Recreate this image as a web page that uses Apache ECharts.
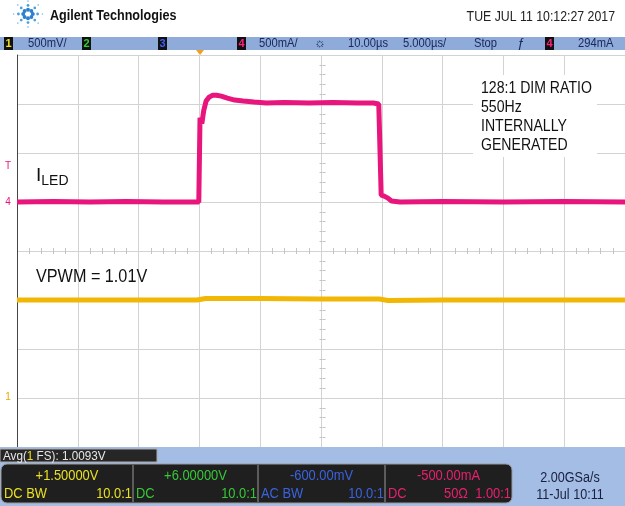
<!DOCTYPE html>
<html>
<head>
<meta charset="utf-8">
<style>
  html, body { margin: 0; padding: 0; background: #fff; }
  #chart { width: 625px; height: 506px; }
</style>
<script src="https://cdn.jsdelivr.net/npm/echarts/dist/echarts.min.js"></script>
</head>
<body>
<div id="chart"></div>
<script>
// scope settings (5us/div, delay 10us)
var timeMin = -15
var timeMax = 35
var timeStep = 5

// CH4 current probe, 500mA/div, offset -500mA
var iledTimeUs = [-15, -12, -9, -6, -3, -0.05,
  0.05, 0.2, 0.35, 0.55, 0.8, 1.1, 1.4, 1.8, 2.3, 2.9, 3.6, 4.5, 5.5, 7, 9,
  11, 13, 14.3, 14.75, 14.95, 15.2, 15.5, 15.8, 16.5, 20, 25, 30, 35]
var iledA = [0.00, 0.005, 0.00, 0.005, 0.00, 0.00,
  0.86, 0.80, 0.93, 1.03, 1.07, 1.09, 1.09, 1.08, 1.06, 1.04, 1.03, 1.02, 1.01, 1.015, 1.01,
  1.015, 1.01, 1.01, 1.00, 0.07, 0.06, 0.04, 0.01, 0.00, 0.005, 0.00, 0.005, 0.00]

// CH1 PWM dim input, 500mV/div, offset +1.5V
var vpwmTimeUs = [-15, -10, -5, -0.2, 0.5, 5, 10, 14.8, 15.5, 20, 25, 30, 35]
var vpwmV = [1.00, 1.00, 1.00, 1.00, 1.015, 1.015, 1.01, 1.01, 0.995, 1.00, 1.00, 1.00, 1.00]

var toolbarItems = ['500mV/', '500mA/', '10.00µs', '5.000µs/', 'Stop', '294mA']
var noteLines = ['128:1 DIM RATIO', '550Hz', 'INTERNALLY', 'GENERATED']

var sans = "'Liberation Sans', Arial, sans-serif"

function pairs(xs, ys) {
  return xs.map(function (x, i) { return [x, ys[i]] })
}

// condensed text, like the scope's narrow font
function txt(x, y, text, color, size, align, sx, weight) {
  return { type: 'text', x: x, y: y, z: 12, scaleX: sx || 0.86,
    style: { text: text, fill: color, font: (weight || '') + ' ' + size + 'px ' + sans, align: align || 'left', verticalAlign: 'middle' } }
}

function chanBox(x, color, label) {
  return [
    { type: 'rect', shape: { x: x, y: 37, width: 9, height: 13 }, style: { fill: '#111' }, z: 10 },
    { type: 'text', x: x + 4.5, y: 43.5, style: { text: label, fill: color, font: 'bold 11px ' + sans, align: 'center', verticalAlign: 'middle' }, z: 11 }
  ]
}

var graphics = []
// header logo (dot burst)
for (var a = 0; a < 8; a++) {
  for (var r = 1; r <= 3; r++) {
    var ang = a * Math.PI / 4
    graphics.push({ type: 'circle', shape: { cx: 28 + Math.cos(ang) * r * 4.8, cy: 14 + Math.sin(ang) * r * 4.3, r: 2.5 - r * 0.55 },
      style: { fill: r === 1 ? '#2a7fd0' : (r === 2 ? '#4aa0e0' : '#8cc4ee') }, z: 10 })
  }
}
graphics.push(txt(50, 16, 'Agilent Technologies', '#111', 15, 'left', 0.84, 'bold'))
graphics.push(txt(615, 17, 'TUE JUL 11 10:12:27 2017', '#222', 14, 'right', 0.88))

// toolbar
graphics.push({ type: 'rect', shape: { x: 0, y: 37, width: 625, height: 13 }, style: { fill: '#8fabd9' }, z: 9 })
graphics = graphics.concat(chanBox(4, '#f0e020', '1'), chanBox(82, '#30d030', '2'), chanBox(158, '#4060ff', '3'),
  chanBox(237, '#ff2080', '4'), chanBox(545, '#ff2080', '4'))
graphics.push(txt(28, 43.5, toolbarItems[0], '#1a2860', 13))
graphics.push(txt(259, 43.5, toolbarItems[1], '#1a2860', 13))
graphics.push(txt(320, 43.5, '☼', '#1a2860', 13, 'center', 1))
graphics.push(txt(348, 43.5, toolbarItems[2], '#1a2860', 13))
graphics.push(txt(403, 43.5, toolbarItems[3], '#1a2860', 13))
graphics.push(txt(474, 43.5, toolbarItems[4], '#1a2860', 13))
graphics.push(txt(521, 43.5, 'ƒ', '#1a2860', 13, 'center', 1))
graphics.push(txt(578, 43.5, toolbarItems[5], '#1a2860', 13))
// trigger position marker
graphics.push({ type: 'polygon', shape: { points: [[196, 50], [204, 50], [200, 55]] }, style: { fill: '#f0a020' }, z: 12 })

// left side channel markers
graphics.push(txt(8, 166, 'T', '#e8157c', 10, 'center', 1))
graphics.push(txt(8, 202, '4', '#e8157c', 10, 'center', 1))
graphics.push(txt(8, 397, '1', '#e8a800', 10, 'center', 1))

// trace labels
graphics.push({ type: 'text', x: 36, y: 176, z: 12,
  style: { text: '{a|I}{b|LED}', verticalAlign: 'middle', rich: {
    a: { font: '19px ' + sans, fill: '#111' },
    b: { font: '14px ' + sans, fill: '#111', padding: [10, 0, 0, 0] } } } })
graphics.push(txt(36, 277, 'VPWM = 1.01V', '#111', 18, 'left', 0.9))

// annotation box
graphics.push({ type: 'rect', shape: { x: 473, y: 75, width: 124, height: 82 }, style: { fill: '#fff' }, z: 11 })
noteLines.forEach(function (line, i) {
  graphics.push(txt(481, 89 + i * 19, line, '#111', 16, 'left', 0.88))
})

// status bar
graphics.push({ type: 'rect', shape: { x: 0, y: 447, width: 625, height: 59 }, style: { fill: '#a3bde4' }, z: 9 })
graphics.push({ type: 'rect', shape: { x: 0, y: 449, width: 157, height: 13 }, style: { fill: '#262626', stroke: '#aaa', lineWidth: 1 }, z: 10 })
graphics.push({ type: 'text', x: 3, y: 456, z: 12, scaleX: 0.9, style: { text: '{w|Avg(}{y|1}{w| FS): 1.0093V}', verticalAlign: 'middle',
  rich: { w: { font: '13px ' + sans, fill: '#e8e8e8' }, y: { font: '13px ' + sans, fill: '#f0e020' } } } })
graphics.push({ type: 'rect', shape: { x: 1, y: 464, width: 511, height: 39, r: 6 }, style: { fill: '#1f1f1f', stroke: '#9a9a9a', lineWidth: 1 }, z: 10 })
;[133, 258, 385].forEach(function (x) {
  graphics.push({ type: 'line', shape: { x1: x, y1: 465, x2: x, y2: 502 }, style: { stroke: '#9a9a9a', lineWidth: 1 }, z: 11 })
})
var boxes = [
  { l: 1, r: 133, c: '#e8e020', top: '+1.50000V', left: 'DC BW', right: '10.0:1' },
  { l: 133, r: 258, c: '#36c936', top: '+6.00000V', left: 'DC', right: '10.0:1' },
  { l: 258, r: 385, c: '#3a63e0', top: '-600.00mV', left: 'AC BW', right: '10.0:1' },
  { l: 385, r: 512, c: '#e8206e', top: '-500.00mA', left: 'DC', right: '50Ω  1.00:1' }
]
boxes.forEach(function (b) {
  graphics.push(txt((b.l + b.r) / 2, 476, b.top, b.c, 15, 'center'))
  graphics.push(txt(b.l + 3, 494, b.left, b.c, 15, 'left'))
  graphics.push(txt(b.r - 1, 494, b.right, b.c, 15, 'right'))
})
graphics.push(txt(570, 478, '2.00GSa/s', '#1a2040', 14, 'center', 0.9))
graphics.push(txt(570, 495, '11-Jul 10:11', '#1a2040', 14, 'center', 0.9))

var chart = echarts.init(document.getElementById('chart'))
var hidden = { show: false }
var minor = { show: true, splitNumber: 5, length: 3, lineStyle: { color: '#c4c4c4' } }
chart.setOption({
  animation: false,
  backgroundColor: '#fff',
  grid: { left: 17, top: 55, width: 611, height: 392 },
  xAxis: [
    { type: 'value', min: timeMin, max: timeMax, interval: timeStep,
      axisLine: hidden, axisTick: hidden, axisLabel: hidden,
      splitLine: { show: true, lineStyle: { color: '#d3d3d3', width: 1 } } },
    { type: 'value', min: timeMin, max: timeMax, interval: timeStep, position: 'bottom', offset: -196,
      axisLine: hidden, axisTick: hidden, axisLabel: hidden, splitLine: hidden, minorTick: minor },
    { type: 'value', min: timeMin, max: timeMax, interval: timeStep, position: 'top', offset: -196,
      axisLine: hidden, axisTick: hidden, axisLabel: hidden, splitLine: hidden, minorTick: minor }
  ],
  yAxis: [
    { type: 'value', min: -0.5, max: 3.5, interval: 0.5,
      axisLine: { show: true, onZero: false, lineStyle: { color: '#444', width: 1 } }, axisTick: hidden, axisLabel: hidden,
      splitLine: { show: true, lineStyle: { color: '#d3d3d3', width: 1 } } },
    { type: 'value', min: -2.5, max: 1.5, interval: 0.5, position: 'right',
      axisLine: hidden, axisTick: hidden, axisLabel: hidden, splitLine: hidden },
    { type: 'value', min: -0.5, max: 3.5, interval: 0.5, position: 'left', offset: -305.5,
      axisLine: hidden, axisTick: hidden, axisLabel: hidden, splitLine: hidden, minorTick: minor },
    { type: 'value', min: -0.5, max: 3.5, interval: 0.5, position: 'right', offset: -305.5,
      axisLine: hidden, axisTick: hidden, axisLabel: hidden, splitLine: hidden, minorTick: minor }
  ],
  series: [
    { name: 'VPWM', type: 'line', xAxisIndex: 0, yAxisIndex: 0, data: pairs(vpwmTimeUs, vpwmV),
      showSymbol: false, lineStyle: { color: '#f2b705', width: 5 }, z: 3 },
    { name: 'ILED', type: 'line', xAxisIndex: 0, yAxisIndex: 1, data: pairs(iledTimeUs, iledA),
      showSymbol: false, lineStyle: { color: '#e8157c', width: 5 }, z: 4 }
  ],
  graphic: { elements: graphics }
})
</script>
</body>
</html>
